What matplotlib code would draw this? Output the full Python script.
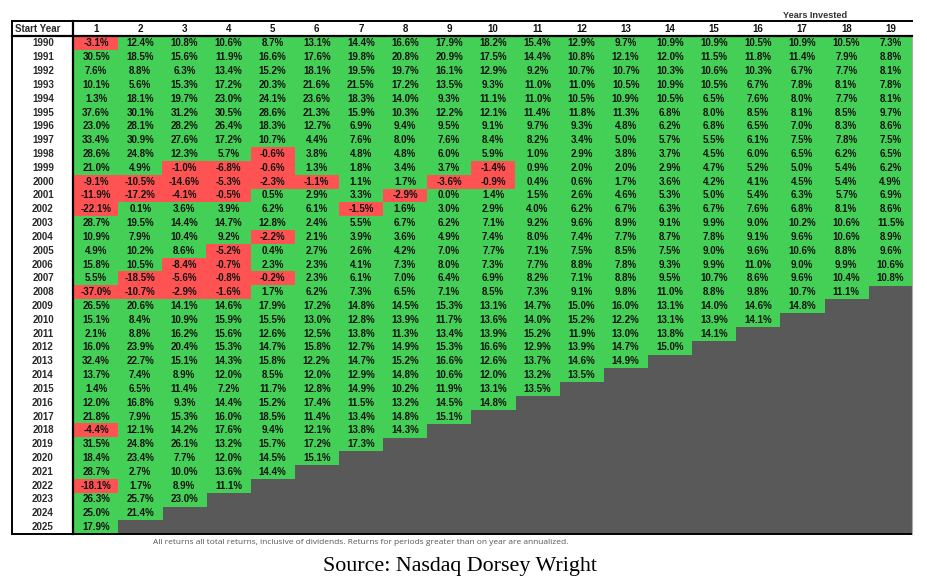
import matplotlib
matplotlib.use('Agg')
import matplotlib.pyplot as plt
from matplotlib.patches import Rectangle

start_years = list(range(1990, 2026))
years_invested = list(range(1, 20))

# annualized total returns (%), one row per start year
returns = [
    [-3.1, 12.4, 10.8, 10.6, 8.7, 13.1, 14.4, 16.6, 17.9, 18.2, 15.4, 12.9, 9.7, 10.9, 10.9, 10.5, 10.9, 10.5, 7.3],
    [30.5, 18.5, 15.6, 11.9, 16.6, 17.6, 19.8, 20.8, 20.9, 17.5, 14.4, 10.8, 12.1, 12.0, 11.5, 11.8, 11.4, 7.9, 8.8],
    [7.6, 8.8, 6.3, 13.4, 15.2, 18.1, 19.5, 19.7, 16.1, 12.9, 9.2, 10.7, 10.7, 10.3, 10.6, 10.3, 6.7, 7.7, 8.1],
    [10.1, 5.6, 15.3, 17.2, 20.3, 21.6, 21.5, 17.2, 13.5, 9.3, 11.0, 11.0, 10.5, 10.9, 10.5, 6.7, 7.8, 8.1, 7.8],
    [1.3, 18.1, 19.7, 23.0, 24.1, 23.6, 18.3, 14.0, 9.3, 11.1, 11.0, 10.5, 10.9, 10.5, 6.5, 7.6, 8.0, 7.7, 8.1],
    [37.6, 30.1, 31.2, 30.5, 28.6, 21.3, 15.9, 10.3, 12.2, 12.1, 11.4, 11.8, 11.3, 6.8, 8.0, 8.5, 8.1, 8.5, 9.7],
    [23.0, 28.1, 28.2, 26.4, 18.3, 12.7, 6.9, 9.4, 9.5, 9.1, 9.7, 9.3, 4.8, 6.2, 6.8, 6.5, 7.0, 8.3, 8.6],
    [33.4, 30.9, 27.6, 17.2, 10.7, 4.4, 7.6, 8.0, 7.6, 8.4, 8.2, 3.4, 5.0, 5.7, 5.5, 6.1, 7.5, 7.8, 7.5],
    [28.6, 24.8, 12.3, 5.7, -0.6, 3.8, 4.8, 4.8, 6.0, 5.9, 1.0, 2.9, 3.8, 3.7, 4.5, 6.0, 6.5, 6.2, 6.5],
    [21.0, 4.9, -1.0, -6.8, -0.6, 1.3, 1.8, 3.4, 3.7, -1.4, 0.9, 2.0, 2.0, 2.9, 4.7, 5.2, 5.0, 5.4, 6.2],
    [-9.1, -10.5, -14.6, -5.3, -2.3, -1.1, 1.1, 1.7, -3.6, -0.9, 0.4, 0.6, 1.7, 3.6, 4.2, 4.1, 4.5, 5.4, 4.9],
    [-11.9, -17.2, -4.1, -0.5, 0.5, 2.9, 3.3, -2.9, 0.0, 1.4, 1.5, 2.6, 4.6, 5.3, 5.0, 5.4, 6.3, 5.7, 6.9],
    [-22.1, 0.1, 3.6, 3.9, 6.2, 6.1, -1.5, 1.6, 3.0, 2.9, 4.0, 6.2, 6.7, 6.3, 6.7, 7.6, 6.8, 8.1, 8.6],
    [28.7, 19.5, 14.4, 14.7, 12.8, 2.4, 5.5, 6.7, 6.2, 7.1, 9.2, 9.6, 8.9, 9.1, 9.9, 9.0, 10.2, 10.6, 11.5],
    [10.9, 7.9, 10.4, 9.2, -2.2, 2.1, 3.9, 3.6, 4.9, 7.4, 8.0, 7.4, 7.7, 8.7, 7.8, 9.1, 9.6, 10.6, 8.9],
    [4.9, 10.2, 8.6, -5.2, 0.4, 2.7, 2.6, 4.2, 7.0, 7.7, 7.1, 7.5, 8.5, 7.5, 9.0, 9.6, 10.6, 8.8, 9.6],
    [15.8, 10.5, -8.4, -0.7, 2.3, 2.3, 4.1, 7.3, 8.0, 7.3, 7.7, 8.8, 7.8, 9.3, 9.9, 11.0, 9.0, 9.9, 10.6],
    [5.5, -18.5, -5.6, -0.8, -0.2, 2.3, 6.1, 7.0, 6.4, 6.9, 8.2, 7.1, 8.8, 9.5, 10.7, 8.6, 9.6, 10.4, 10.8],
    [-37.0, -10.7, -2.9, -1.6, 1.7, 6.2, 7.3, 6.5, 7.1, 8.5, 7.3, 9.1, 9.8, 11.0, 8.8, 9.8, 10.7, 11.1],
    [26.5, 20.6, 14.1, 14.6, 17.9, 17.2, 14.8, 14.5, 15.3, 13.1, 14.7, 15.0, 16.0, 13.1, 14.0, 14.6, 14.8],
    [15.1, 8.4, 10.9, 15.9, 15.5, 13.0, 12.8, 13.9, 11.7, 13.6, 14.0, 15.2, 12.2, 13.1, 13.9, 14.1],
    [2.1, 8.8, 16.2, 15.6, 12.6, 12.5, 13.8, 11.3, 13.4, 13.9, 15.2, 11.9, 13.0, 13.8, 14.1],
    [16.0, 23.9, 20.4, 15.3, 14.7, 15.8, 12.7, 14.9, 15.3, 16.6, 12.9, 13.9, 14.7, 15.0],
    [32.4, 22.7, 15.1, 14.3, 15.8, 12.2, 14.7, 15.2, 16.6, 12.6, 13.7, 14.6, 14.9],
    [13.7, 7.4, 8.9, 12.0, 8.5, 12.0, 12.9, 14.8, 10.6, 12.0, 13.2, 13.5],
    [1.4, 6.5, 11.4, 7.2, 11.7, 12.8, 14.9, 10.2, 11.9, 13.1, 13.5],
    [12.0, 16.8, 9.3, 14.4, 15.2, 17.4, 11.5, 13.2, 14.5, 14.8],
    [21.8, 7.9, 15.3, 16.0, 18.5, 11.4, 13.4, 14.8, 15.1],
    [-4.4, 12.1, 14.2, 17.6, 9.4, 12.1, 13.8, 14.3],
    [31.5, 24.8, 26.1, 13.2, 15.7, 17.2, 17.3],
    [18.4, 23.4, 7.7, 12.0, 14.5, 15.1],
    [28.7, 2.7, 10.0, 13.6, 14.4],
    [-18.1, 1.7, 8.9, 11.1],
    [26.3, 25.7, 23.0],
    [25.0, 21.4],
    [17.9],
]

footnote = ('All returns all total returns, inclusive of dividends. '
            'Returns for periods greater than on year are annualized.')
source = 'Source: Nasdaq Dorsey Wright'

GREEN = '#44cf56'
RED = '#ff5252'
GRAY = '#595959'
TXT = '#111111'

fig = plt.figure(figsize=(9.27, 5.86), dpi=100)
ax = fig.add_axes([0, 0, 1, 1])
ax.set_xlim(0, 927)
ax.set_ylim(586, 0)
ax.axis('off')

left, label_right, right = 12, 74, 912.5
top, head_bot, bottom = 21, 36.5, 534
cw = (right - label_right) / len(years_invested)
rh = (bottom - head_bot) / len(start_years)
fs = 7.0

# empty (future) cells background
ax.add_patch(Rectangle((label_right, head_bot), right - label_right, bottom - head_bot,
                       facecolor=GRAY, edgecolor='none'))

for i, yr in enumerate(start_years):
    yc = head_bot + (i + 0.5) * rh
    ax.text((left + label_right) / 2, yc, str(yr), ha='center', va='center',
            fontsize=fs, fontweight='bold', color='#2a2a2a', family='Liberation Sans')
    for j, v in enumerate(returns[i]):
        x0 = label_right + j * cw
        ax.add_patch(Rectangle((x0, head_bot + i * rh), cw + 0.3, rh + 0.3,
                               facecolor=RED if v < 0 else GREEN, edgecolor='none'))
        ax.text(x0 + cw / 2, yc, '{:.1f}%'.format(v), ha='center', va='center',
                fontsize=fs, fontweight='bold', color=TXT, family='Liberation Sans')

# header
for j, n in enumerate(years_invested):
    ax.text(label_right + (j + 0.5) * cw, (top + head_bot) / 2 + 0.5, str(n),
            ha='center', va='center', fontsize=fs, fontweight='bold',
            color=TXT, family='Liberation Sans')
ax.text(left + 3, (top + head_bot) / 2 + 0.5, 'Start Year', ha='left', va='center',
        fontsize=fs, fontweight='bold', color='#2a2a2a', family='Liberation Sans')
ax.text(815, 15, 'Years Invested', ha='center', va='center', fontsize=6.6,
        fontweight='bold', color='#333333', family='Liberation Sans')

# borders
ax.plot([left, right], [top, top], color='black', lw=1.4)
ax.plot([left, right], [head_bot - 0.5, head_bot - 0.5], color='black', lw=1.6)
ax.plot([left, right], [bottom, bottom], color='black', lw=1.4)
ax.plot([left, left], [top, bottom], color='black', lw=1.4)
ax.plot([label_right - 1, label_right - 1], [top, bottom], color='black', lw=1.6)
ax.plot([right, right], [head_bot, bottom], color='#aaaaaa', lw=0.8)

ax.text(361, 543, footnote, ha='center', va='center', fontsize=6.0,
        color='#555555', family='Open Sans')
ax.text(460, 566, source, ha='center', va='center', fontsize=15.8,
        color='black', family='Liberation Serif')

plt.savefig('out.png', dpi=100)
